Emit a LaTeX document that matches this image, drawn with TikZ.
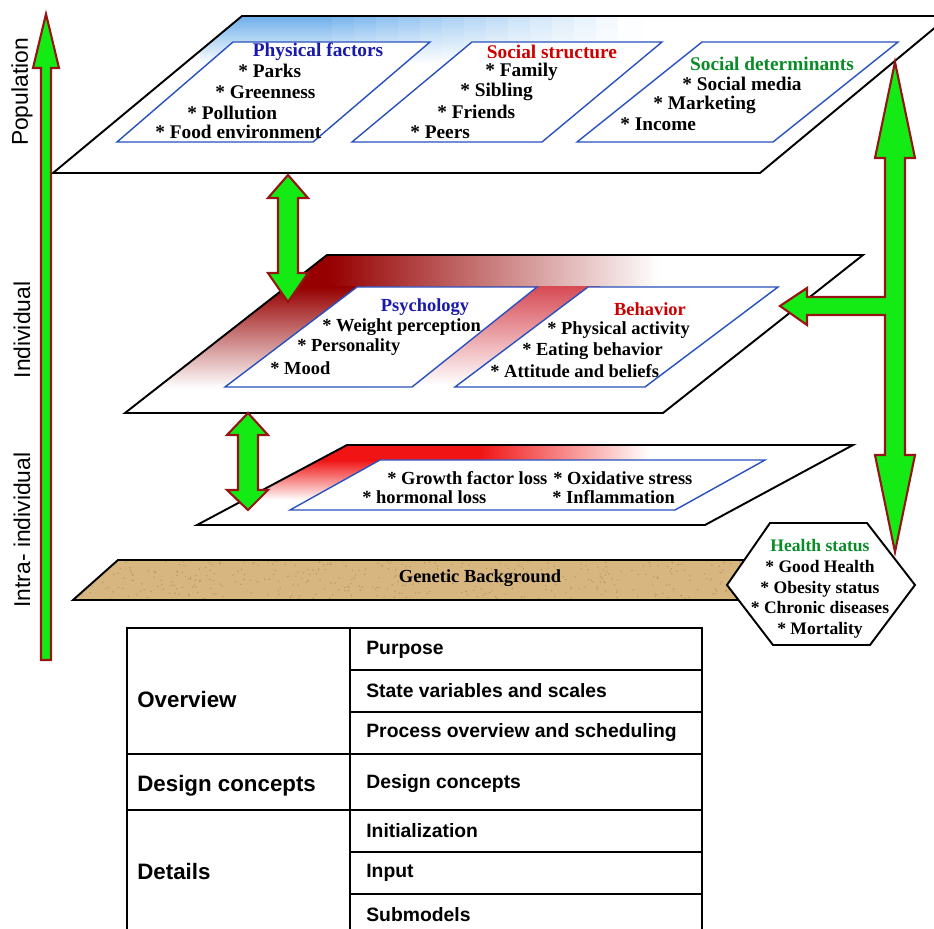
\documentclass[tikz,border=0pt]{standalone}
\usepackage{fontspec}
\setmainfont{Liberation Serif}
\setsansfont{Liberation Sans}
\usepackage{tikz}
\usepackage{xcolor}
\usetikzlibrary{shapes, positioning}

\definecolor{headblue}{RGB}{25,25,170}
\definecolor{headred}{RGB}{205,0,0}
\definecolor{headgreen}{RGB}{10,140,40}
\definecolor{innerblue}{RGB}{40,80,190}
\definecolor{arrowgreen}{RGB}{20,235,20}
\definecolor{arrowred}{RGB}{150,20,20}
\definecolor{sand}{RGB}{215,182,128}
\definecolor{sanddark}{RGB}{150,115,70}
\definecolor{topblue}{RGB}{110,175,235}
\definecolor{darkred}{RGB}{150,0,0}
\definecolor{midred}{RGB}{205,30,30}
\definecolor{pinkred}{RGB}{215,75,85}
\definecolor{planered}{RGB}{240,20,20}

\tikzset{
    plane/.style={draw=black, line width=1.1pt, fill=white, line join=miter},
    innerbox/.style={draw=innerblue, line width=0.8pt, fill=white},
    item/.style={font=\bfseries\fontsize{11}{12}\selectfont, inner sep=0pt, anchor=west},
    smallitem/.style={font=\bfseries\fontsize{10.5}{12}\selectfont, inner sep=0pt, anchor=west},
    head/.style={font=\bfseries\fontsize{11}{12}\selectfont, inner sep=0pt},
    smallhead/.style={font=\bfseries\fontsize{10.5}{12}\selectfont, inner sep=0pt},
    blockarrow/.style={fill=arrowgreen, draw=arrowred, line width=1.2pt, line join=miter},
    level/.style={font=\sffamily\fontsize{13}{15}\selectfont, rotate=90, inner sep=0pt},
    cell/.style={font=\sffamily\bfseries\fontsize{11}{13}\selectfont, anchor=west, inner sep=0pt},
    bigcell/.style={font=\sffamily\bfseries\fontsize{12.7}{15}\selectfont, anchor=west, inner sep=0pt},
    gridline/.style={line width=1.1pt}
}

\begin{document}
\begin{tikzpicture}[x=0.02cm, y=-0.02cm]
        \useasboundingbox (0,0) rectangle (934,929);
        \clip (0,0) rectangle (934,929);

        % population plane
        \fill[white] (242,16) -- (949,16) -- (760,173) -- (53,173) -- cycle;
        \begin{scope}
            \clip (242,16) -- (949,16) -- (760,173) -- (53,173) -- cycle;
            \foreach \k in {0,...,19} {
                \pgfmathtruncatemacro\s{min(100,135-7*\k)}
                \shade[top color=topblue!\s!white, bottom color=white] ({200+22*\k},16) rectangle ({223+22*\k},64);
            }
        \end{scope}
        \draw[innerbox] (233,42) -- (430,42) -- (313,142) -- (117,142) -- cycle;
        \draw[innerbox] (472,42) -- (662,42) -- (542,142) -- (352,142) -- cycle;
        \draw[innerbox] (702,42) -- (898,42) -- (773,142) -- (577,142) -- cycle;
        \draw[plane, fill=none] (242,16) -- (949,16) -- (760,173) -- (53,173) -- cycle;

        % individual plane
        \fill[white] (327,255) -- (863,255) -- (663,413) -- (125,413) -- cycle;
        \begin{scope}
            \clip (327,255) -- (863,255) -- (663,413) -- (125,413) -- cycle;
            \fill[darkred] (250,255) rectangle (330,288);
            \shade[left color=darkred, middle color=midred, right color=white] (329,255) rectangle (660,288);
            \shade[top color=darkred, middle color=midred, bottom color=white] (100,287) rectangle (365,388);
            \shade[top color=pinkred, bottom color=white] (400,287) rectangle (600,385);
        \end{scope}
        \draw[innerbox] (357,287) -- (537,287) -- (412,387) -- (225,387) -- cycle;
        \draw[innerbox] (588,287) -- (778,287) -- (645,387) -- (455,387) -- cycle;
        \draw[plane, fill=none] (327,255) -- (863,255) -- (663,413) -- (125,413) -- cycle;

        % intra-individual plane
        \fill[white] (347,445) -- (853,445) -- (705,525) -- (197,525) -- cycle;
        \begin{scope}
            \clip (347,445) -- (853,445) -- (705,525) -- (197,525) -- cycle;
            \fill[planered] (290,445) rectangle (480,461);
            \shade[left color=planered, right color=white] (479,445) rectangle (650,461);
            \shade[top color=planered, bottom color=white] (190,460) rectangle (400,500);
        \end{scope}
        \draw[innerbox] (380,460) -- (765,460) -- (675,510) -- (290,510) -- cycle;
        \draw[plane, fill=none] (347,445) -- (853,445) -- (705,525) -- (197,525) -- cycle;

        % genetic background
        \begin{scope}
            \clip (118,560) -- (800,560) -- (760,600) -- (73,600) -- cycle;
            \fill[sand] (60,555) rectangle (810,605);
            \pgfmathsetseed{7}
            \foreach \i in {1,...,450} {
                \fill[sanddark, opacity=.45] ({75+730*rnd},{560+40*rnd}) circle[radius=0.45pt];
            }
        \end{scope}
        \draw[plane, fill=none] (118,560) -- (800,560) -- (760,600) -- (73,600) -- cycle;

        % health status
        \draw[plane] (727,585) -- (770,523) -- (867,523) -- (915,585) -- (870,645) -- (773,645) -- cycle;

        % arrows
        \draw[blockarrow] (288,175) -- (308,198) -- (298,198) -- (298,273) -- (308,273) -- (288,302)
            -- (268,273) -- (278,273) -- (278,198) -- (268,198) -- cycle;
        \draw[blockarrow] (248,413) -- (268,435) -- (258,435) -- (258,490) -- (268,490) -- (248,510)
            -- (227,490) -- (238,490) -- (238,435) -- (227,435) -- cycle;
        \draw[blockarrow] (895,62) -- (915,158) -- (905,158) -- (905,455) -- (915,455) -- (895,552)
            -- (875,455) -- (885,455) -- (885,315) -- (807,315) -- (807,325) -- (780,306)
            -- (807,288) -- (807,297) -- (885,297) -- (885,158) -- (875,158) -- cycle;
        \draw[blockarrow] (41,660) -- (41,68) -- (33,68) -- (46,14) -- (59,68) -- (51,68) -- (51,660) -- cycle;

        % level labels
        \node[level] (lvl-pop) at (22,92) {Population};
        \node[level] (lvl-ind) at (22,330) {Individual};
        \node[level] (lvl-intra) at (22,530) {Intra- individual};

        % population texts
        \node[head, text=headblue] (phys) at (318,52) {Physical factors};
        \foreach \x/\y/\t [count=\i] in {238/71/Parks, 215/92/Greenness, 187/113/Pollution, 155/132/Food environment} {
            \node[item] (pf\i) at (\x,\y) {* \t};
        }
        \node[head, text=headred] (social) at (552,52) {Social structure};
        \foreach \x/\y/\t [count=\i] in {485/72/Family, 460/92/Sibling, 437/112/Friends, 410/132/Peers} {
            \node[item] (ss\i) at (\x,\y) {* \t};
        }
        \node[head, text=headgreen] (determ) at (772,64) {Social determinants};
        \foreach \x/\y/\t [count=\i] in {682/84/Social media, 653/105/Marketing, 620/124/Income} {
            \node[item] (sd\i) at (\x,\y) {* \t};
        }

        % individual texts
        \node[smallhead, text=headblue] (psych) at (425,307) {Psychology};
        \foreach \x/\y/\t [count=\i] in {322/327/Weight perception, 297/347/Personality, 270/368/Mood} {
            \node[smallitem] (psy\i) at (\x,\y) {* \t};
        }
        \node[smallhead, text=headred] (behav) at (650,309) {Behavior};
        \foreach \x/\y/\t [count=\i] in {547/330/Physical activity, 522/351/Eating behavior, 490/371/Attitude and beliefs} {
            \node[smallitem] (beh\i) at (\x,\y) {* \t};
        }

        % intra-individual texts
        \foreach \x/\y/\t [count=\i] in {387/478/Growth factor loss, 553/478/Oxidative stress, 362/497/hormonal loss, 552/497/Inflammation} {
            \node[smallitem] (intra\i) at (\x,\y) {* \t};
        }

        \node[smallhead] (genetic) at (480,578) {Genetic Background};
        \node[align=center, font=\bfseries\fontsize{10}{11.8}\selectfont, inner sep=0pt] (health) at (820,589)
            {\textcolor{headgreen}{Health status}\\* Good Health\\* Obesity status\\* Chronic diseases\\* Mortality};

        % ODD table
        \draw[gridline] (127,628) rectangle (702,940);
        \draw[gridline] (350,628) -- (350,940);
        \foreach \y in {754, 810} {
            \draw[gridline] (127,\y) -- (702,\y);
        }
        \foreach \y in {670, 712, 852, 894} {
            \draw[gridline] (350,\y) -- (702,\y);
        }
        \foreach \t/\y [count=\i] in {Purpose/650, State variables and scales/691, Process overview and scheduling/733,
            Design concepts/784, Initialization/831, Input/873, Submodels/915} {
            \node[cell] (row\i) at (366,\y) {\t};
        }
        \node[bigcell] (overview) at (137,700) {Overview};
        \node[bigcell] (design) at (137,786) {Design concepts};
        \node[bigcell] (details) at (137,872) {Details};
    \end{tikzpicture}
\end{document}
